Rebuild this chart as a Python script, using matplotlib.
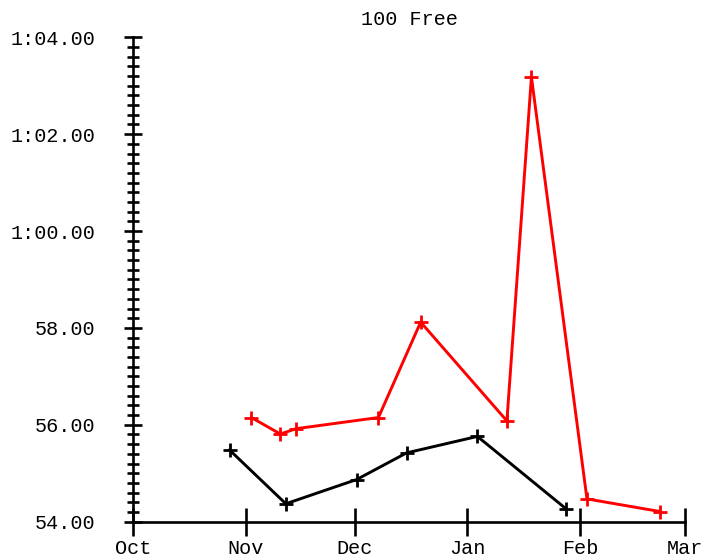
import datetime as dt

import matplotlib
matplotlib.use("Agg")
import matplotlib.pyplot as plt
import matplotlib.dates as mdates
from matplotlib.ticker import FuncFormatter, MultipleLocator

TITLE = "100 Free"

black_dates = ["2023-10-27 12:00", "2023-11-12 00:00", "2023-12-01 12:00",
               "2023-12-15 06:00", "2024-01-03 18:00", "2024-01-28 06:00"]
black_times = [55.48, 54.37, 54.87, 55.42, 55.76, 54.26]

red_dates = ["2023-11-02 12:00", "2023-11-10 12:00", "2023-11-14 21:00",
             "2023-12-07 12:00", "2023-12-19 03:00", "2024-01-11 21:00",
             "2024-01-18 15:00", "2024-02-02 22:00", "2024-02-23 00:00"]
red_times = [56.15, 55.81, 55.92, 56.15, 58.12, 56.08, 63.18, 54.47, 54.21]

month_ticks = ["2023-10-01 00:00", "2023-11-01 00:00", "2023-12-01 00:00",
               "2024-01-01 00:00", "2024-02-01 00:00", "2024-03-01 00:00"]


def to_dates(values):
    return [dt.datetime.strptime(v, "%Y-%m-%d %H:%M") for v in values]


def swim_time(v, pos):
    # anything over a minute is shown as m:ss.hh
    if v >= 60:
        m = int(v // 60)
        s = v - m * 60
        return f"{m}:{s:05.2f}"
    return f"{v:.2f}"


plt.rcParams["font.family"] = ["Liberation Mono", "DejaVu Sans Mono"]

fig = plt.figure(figsize=(7.06, 5.58), dpi=100)
ax = fig.add_axes([0.1888, 0.0651, 0.7819, 0.8681])

ax.plot(to_dates(black_dates), black_times, color="black", lw=2.1,
        marker="+", ms=10, mew=2.0)
ax.plot(to_dates(red_dates), red_times, color="#ff0000", lw=2.1,
        marker="+", ms=10, mew=2.0)

ticks = to_dates(month_ticks)
ax.set_xlim(ticks[0], ticks[-1])
ax.set_ylim(54, 64)
ax.set_xticks(ticks)
ax.xaxis.set_major_formatter(mdates.DateFormatter("%b"))

ax.yaxis.set_major_locator(MultipleLocator(2))
ax.yaxis.set_minor_locator(MultipleLocator(0.2))
ax.yaxis.set_major_formatter(FuncFormatter(swim_time))

for side in ["top", "right"]:
    ax.spines[side].set_visible(False)
for side in ["left", "bottom"]:
    ax.spines[side].set_linewidth(1.9)

ax.tick_params(axis="x", which="major", direction="inout", length=19.5,
               width=1.9, pad=3, labelsize=14.5)
ax.tick_params(axis="y", which="major", direction="inout", length=13,
               width=1.9, pad=21, labelsize=14.5)
ax.tick_params(axis="y", which="minor", direction="inout", length=8,
               width=1.9)

ax.set_title(TITLE, fontsize=14.5, pad=9)

fig.savefig("out.png", dpi=100)
plt.close(fig)
